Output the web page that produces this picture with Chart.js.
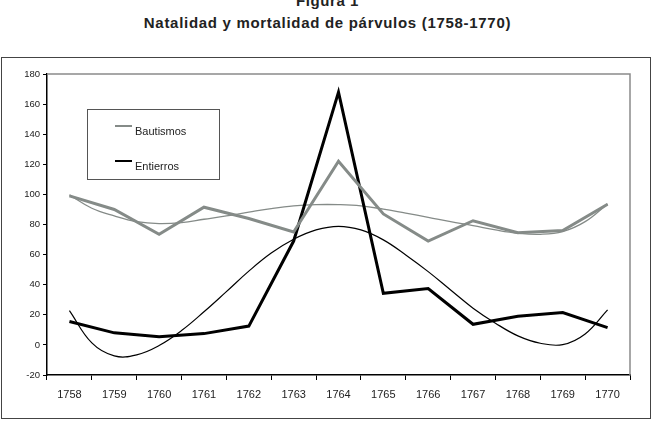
<!DOCTYPE html>
<html>
<head>
<meta charset="utf-8">
<script src="https://cdn.jsdelivr.net/npm/chart.js@4/dist/chart.umd.min.js"></script>
<style>
  html, body { margin: 0; padding: 0; background: #fff; }
  body { width: 655px; height: 422px; position: relative; overflow: hidden; font-family: 'Liberation Sans', Arial, sans-serif; }
  .fig { position: absolute; left: 0; width: 655px; text-align: center; font-weight: bold; color: #222; }
  .fig1 { top: -8px; font-size: 15px; letter-spacing: 0.6px; }
  .fig2 { top: 14px; font-size: 15px; letter-spacing: 0.7px; }
  .frame { position: absolute; left: 1px; top: 57px; width: 648px; height: 360px; border: 1px solid #444; }
  canvas { position: absolute; left: 0; top: 0; }
</style>
</head>
<body>
<div class="fig fig1">Figura 1</div>
<div class="fig fig2">Natalidad y mortalidad de párvulos (1758-1770)</div>
<div class="frame"></div>
<canvas id="chart" width="655" height="422"></canvas>
<script>
const years = ['1758', '1759', '1760', '1761', '1762', '1763', '1764', '1765', '1766', '1767', '1768', '1769', '1770'];
const bautismos = [99, 90, 73.5, 91.5, 84, 75, 122, 87, 69, 82.5, 74.5, 76, 93.5];
const entierros = [15.5, 8, 5.5, 7.5, 12.5, 69, 168, 34.3, 37.5, 13.7, 19, 21.5, 11.5];

// trend curves, every half year
const trendYears = [1758, 1758.5, 1759, 1759.5, 1760, 1760.5, 1761, 1761.5, 1762, 1762.5, 1763, 1763.5, 1764,
  1764.5, 1765, 1765.5, 1766, 1766.5, 1767, 1767.5, 1768, 1768.5, 1769, 1769.5, 1770];
const trendBautismos = [99.7, 90.8, 85.7, 81.9, 80.6, 81.3, 83.5, 85.7, 88.2, 90.6, 92.4, 93.2, 93.2,
  92.4, 90.2, 87.5, 84.8, 81.9, 79.3, 76.4, 74.2, 73.5, 75.3, 81.9, 93.7];
const trendEntierros = [22.8, 1.3, -7.3, -6.6, -0.4, 9.5, 22, 35.4, 49, 61, 70.2, 76.4, 78.8,
  76.4, 69.8, 59.8, 48.7, 36.5, 24.4, 14.4, 6, 1.1, 0.2, 7.3, 23.3];

const yTicks = { min: -20, max: 180, step: 20 };

const gray = '#858b88';
const font = 'Liberation Sans';

function toPoints(xs, ys) {
  return xs.map((x, i) => ({ x, y: ys[i] }));
}

const plotFrame = {
  id: 'plotFrame',
  beforeDatasetsDraw(chart) {
    const { ctx, chartArea: a } = chart;
    ctx.save();
    ctx.strokeStyle = '#8a8a8a';
    ctx.lineWidth = 1.5;
    ctx.beginPath();
    ctx.moveTo(a.left, a.top);
    ctx.lineTo(a.right, a.top);
    ctx.lineTo(a.right, a.bottom);
    ctx.stroke();
    ctx.restore();
  }
};

const legendBox = {
  id: 'legendBox',
  afterDraw(chart) {
    const ctx = chart.ctx;
    ctx.save();
    ctx.fillStyle = '#fff';
    ctx.fillRect(87, 109, 132, 70);
    ctx.strokeStyle = '#555';
    ctx.lineWidth = 1;
    ctx.strokeRect(87.5, 109.5, 132, 70);
    const items = [
      { label: 'Bautismos', color: gray, y: 126 },
      { label: 'Entierros', color: '#000', y: 161 }
    ];
    ctx.font = `11px "${font}"`;
    ctx.textBaseline = 'top';
    items.forEach(item => {
      ctx.strokeStyle = item.color;
      ctx.lineWidth = 2;
      ctx.beginPath();
      ctx.moveTo(115, item.y);
      ctx.lineTo(132, item.y);
      ctx.stroke();
      ctx.fillStyle = '#222';
      ctx.fillText(item.label, 135, item.y);
    });
    ctx.restore();
  }
};

new Chart(document.getElementById('chart'), {
  type: 'line',
  data: {
    labels: years,
    datasets: [
      {
        label: 'Bautismos',
        data: bautismos,
        borderColor: gray,
        borderWidth: 3,
        pointRadius: 0,
        tension: 0
      },
      {
        label: 'Entierros',
        data: entierros,
        borderColor: '#000',
        borderWidth: 3,
        pointRadius: 0,
        tension: 0
      },
      {
        label: 'Tendencia bautismos',
        data: toPoints(trendYears, trendBautismos),
        xAxisID: 'xt',
        borderColor: gray,
        borderWidth: 1.3,
        pointRadius: 0,
        tension: 0.4
      },
      {
        label: 'Tendencia entierros',
        data: toPoints(trendYears, trendEntierros),
        xAxisID: 'xt',
        borderColor: '#000',
        borderWidth: 1.2,
        pointRadius: 0,
        tension: 0.4
      }
    ]
  },
  options: {
    responsive: false,
    devicePixelRatio: 1,
    animation: false,
    layout: { padding: { left: 0, top: 74, right: 25, bottom: 0 } },
    scales: {
      x: {
        type: 'category',
        offset: true,
        afterFit(scale) { scale.height = 47; },
        grid: { offset: true, drawOnChartArea: false, color: '#000', tickLength: 5 },
        border: { color: '#000', width: 1.5 },
        ticks: { color: '#222', padding: 8, maxRotation: 0, autoSkip: false, font: { family: font, size: 11 } }
      },
      xt: {
        type: 'linear',
        display: false,
        min: 1757.5,
        max: 1770.5
      },
      y: {
        min: yTicks.min,
        max: yTicks.max,
        afterFit(scale) { scale.width = 47; },
        grid: { drawOnChartArea: false, color: '#000', tickLength: 4 },
        border: { color: '#000', width: 1.5 },
        ticks: { stepSize: yTicks.step, color: '#222', padding: 3, font: { family: font, size: 9.5 } }
      }
    },
    plugins: {
      legend: { display: false },
      title: { display: false },
      tooltip: { enabled: false }
    }
  },
  plugins: [plotFrame, legendBox]
});
</script>
</body>
</html>
